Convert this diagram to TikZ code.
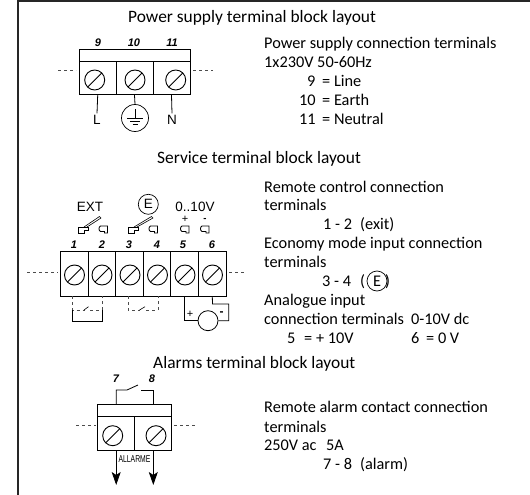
\documentclass[tikz,border=0pt]{standalone}
\usepackage{fontspec}
\setmainfont{Carlito}
\newfontfamily\armfont{Liberation Sans}
\usetikzlibrary{arrows.meta,positioning}
\tikzset{
  title/.style={inner sep=0pt,anchor=base west,font=\fontsize{17.4}{19}\selectfont},
  body/.style={inner sep=0pt,anchor=base west,font=\fontsize{16.3}{18}\selectfont},
  num/.style={inner sep=0pt,font=\armfont\fontsize{11}{12}\bfseries\itshape\selectfont},
  lab/.style={inner sep=0pt,font=\armfont\fontsize{13.5}{14}\selectfont},
  ring/.style={draw,circle,inner sep=0pt,line width=0.7pt},
  screw/.style={ring,minimum size=20pt,line width=0.9pt,
    path picture={\draw[line width=0.9pt] (path picture bounding box.south west) -- (path picture bounding box.north east);}},
  cell/.style={draw,line width=1pt,inner sep=0pt},
  dashline/.style={dashed,black!70,line width=0.5pt},
  wire/.style={line width=0.8pt},
  thinwire/.style={line width=0.6pt},
  pics/lugl/.style={code={\draw[line width=0.8pt] (0,8) -- (0,2) -- (10,2) -- (10,5) -- (6,5) -- (6,8) -- cycle;}},
  pics/lugr/.style={code={\draw[line width=0.8pt] (10,8) -- (10,1) -- (3,1) to[bend right=70] (3,6.5) -- (7,6.5) -- (7,8) -- cycle;}},
}
\begin{document}
\begin{tikzpicture}[x=1pt,y=-1pt]
  \useasboundingbox (0,0) rectangle (530,495);
  \draw[line width=1.7pt,black!85] (17.7,495) -- (17.7,1) -- (530,1);
  % titles
  \node[title] (title1) at (128,22.7) {Power supply terminal block layout};
  \node[title] (title2) at (157,163) {Service terminal block layout};
  \node[title] (title3) at (153,368) {Alarms terminal block layout};

  % power supply block
  \node[cell,minimum width=111pt,minimum height=12.4pt] (head1) at (134.7,55.5) {};
  \node[cell,minimum width=36.7pt,minimum height=33pt] (p9) at (97.7,78.2) {};
  \node[cell,minimum width=37pt,minimum height=33pt] (p10) at (134.5,78.2) {};
  \node[cell,minimum width=37pt,minimum height=33pt] (p11) at (171.5,78.2) {};
  \node[screw] (s9) at (94.7,80) {};
  \node[screw] (s10) at (135,80) {};
  \node[screw] (s11) at (175.7,80) {};
  \node[num] (n9) at (98,43) {9};
  \node[num] (n10) at (134,43) {10};
  \node[num] (n11) at (172,43) {11};
  \coordinate (d1) at (58,70.7);
  \coordinate (d2) at (213,70.7);
  \draw[dashline] (d1) -- (76,70.7);
  \draw[dashline] (193,70.7) -- (d2);
  \node[lab,outer sep=2pt] (L) at (97,120) {L};
  \node[lab,outer sep=2pt] (N) at (172,120) {N};
  \node[ring,minimum size=27pt] (earth) at (135,118) {};
  \draw[wire] (p9.south) -- (L.north);
  \draw[wire] (p10.south) -- (earth.north);
  \draw[wire] (p11.south) -- (N.north);
  \draw[thinwire] (135,109) -- (135,118) (127,118) -- (143,118) (130,121) -- (140,121) (132.5,124) -- (137.5,124);

  % power supply text
  \node[body] (ps1) at (264,48.3) {Power supply connection terminals};
  \node[body] (ps2) at (264,67.3) {1x230V 50-60Hz};
  \node[body] (ps3) at (307,86.5) {9};
  \node[body] (ps4) at (322,86.5) {= Line};
  \node[body] (ps5) at (299,105.5) {10};
  \node[body] (ps6) at (322,105.5) {= Earth};
  \node[body] (ps7) at (299,124.3) {11};
  \node[body] (ps8) at (322,124.3) {= Neutral};

  % service block
  \node[cell,minimum width=27.6pt,minimum height=45pt] (c1) at (74.3,273.5) {};
  \node[cell,minimum width=27.6pt,minimum height=45pt] (c2) at (101.9,273.5) {};
  \node[cell,minimum width=27.6pt,minimum height=45pt] (c3) at (129.5,273.5) {};
  \node[cell,minimum width=27.6pt,minimum height=45pt] (c4) at (157.1,273.5) {};
  \node[cell,minimum width=27.6pt,minimum height=45pt] (c5) at (184.7,273.5) {};
  \node[cell,minimum width=27.6pt,minimum height=45pt] (c6) at (212.3,273.5) {};
  \node[screw] (t1) at (74.5,275) {};
  \node[screw] (t2) at (102,275) {};
  \node[screw] (t3) at (130,275) {};
  \node[screw] (t4) at (157.5,275) {};
  \node[screw] (t5) at (185,275) {};
  \node[screw] (t6) at (212.5,275) {};
  \node[num] (n1) at (74,245) {1};
  \node[num] (n2) at (102,245) {2};
  \node[num] (n3) at (129,245) {3};
  \node[num] (n4) at (157,245) {4};
  \node[num] (n5) at (183,245) {5};
  \node[num] (n6) at (212,245) {6};
  \draw[dashline] (27,272) -- (58,272);
  \draw[dashline] (229,272) -- (245,272);
  \node[lab,anchor=base] (ext) at (90,211) {EXT};
  \node[ring,minimum size=20pt] (eco) at (148.3,204.3) {};
  \node[lab] (ecoe) at (eco) {E};
  \node[lab,anchor=base] (volt) at (195,211) {0..10V};
  \node[lab,font=\armfont\fontsize{11}{10}\selectfont] (plus) at (185,219.5) {+};
  \node[lab,font=\armfont\fontsize{9.5}{10}\bfseries\selectfont] (minus) at (205,220) {-};

  % contact symbols
  \pic at (78,225) {lugl};
  \pic at (97.5,225) {lugr};
  \pic at (128,225) {lugl};
  \pic at (147.5,225) {lugr};
  \pic at (179,225) {lugr};
  \pic at (199,225) {lugr};
  \draw[thinwire] (84,227) -- (99.5,216.5) -- (101,218) -- (87,227);
  \draw[thinwire] (134,227) -- (151.5,216.5) -- (153,218) -- (137,227);

  % links under the block
  \coordinate (j1) at (72.7,310);
  \coordinate (j2) at (102,310);
  \draw[dashline] (72.7,296) -- (j1) -- (85,310);
  \draw[dashline] (90,310) -- (j2) -- (102,296);
  \draw[thinwire] (84,310) -- (88.5,306.7);
  \draw[wire] (j1) -- (72.7,321) -- (102,321) -- (j2);
  \coordinate (j3) at (128,310);
  \coordinate (j4) at (158,310);
  \draw[dashline] (128,296) -- (j3) -- (140,310);
  \draw[dashline] (146,310) -- (j4) -- (158,296);
  \draw[thinwire] (139.5,310) -- (145,306.7);
  \node[ring,minimum size=20pt,line width=0.8pt] (gen) at (208,320.7) {};
  \draw[wire] (c5.south) -- (gen.west -| c5.south) -- (gen.west);
  \draw[wire] (c6.south) -- (212.5,304) -- (228.7,304) -- (228.7,320.7) -- (gen.east);
  \node[lab,font=\armfont\fontsize{11}{12}\selectfont] (gplus) at (190,314) {+};
  \node[lab,font=\armfont\fontsize{12}{12}\bfseries\selectfont] (gminus) at (221.7,314) {-};

  % service text
  \node[body] (rc1) at (264,192) {Remote control connection};
  \node[body] (rc2) at (264,210) {terminals};
  \node[body] (rc3) at (323,229) {1 - 2};
  \node[body] (rc4) at (360,229) {(exit)};
  \node[body] (ec1) at (264,248) {Economy mode input connection};
  \node[body] (ec2) at (264,267) {terminals};
  \node[body] (ec3) at (322,286) {3 - 4};
  \node[body] (ec4) at (360,286) {(};
  \node[ring,minimum size=20pt] (eco2) at (377,281) {};
  \node[body,anchor=center] (ec5) at (eco2) {E};
  \node[body] (ec6) at (385,286) {)};
  \node[body] (an1) at (264,305) {Analogue input};
  \node[body] (an2) at (264,324) {connection terminals};
  \node[body] (an3) at (411,324) {0-10V dc};
  \node[body] (an4) at (287,343) {5};
  \node[body] (an5) at (304,343) {= + 10V};
  \node[body] (an6) at (411,343) {6};
  \node[body] (an7) at (426,343) {= 0 V};

  % alarm block
  \node[cell,minimum width=74.3pt,minimum height=12pt] (head3) at (134.8,410.3) {};
  \node[cell,minimum width=37pt,minimum height=33.7pt] (a7) at (116.2,433.2) {};
  \node[cell,minimum width=37.3pt,minimum height=33.7pt] (a8) at (153.3,433.2) {};
  \node[screw] (s7) at (112.7,435.7) {};
  \node[screw] (s8) at (156,435.7) {};
  \node[num] (n7) at (116,379) {7};
  \node[num] (n8) at (152,379) {8};
  \draw[dashline] (76,425.7) -- (96,425.7);
  \draw[dashline] (174,425.7) -- (196,425.7);
  \draw[wire] (a7.north |- head3.north) -- (116.2,390) -- (127,390) -- (138,385);
  \draw[wire] (141,390) -- (153.3,390) -- (a8.north |- head3.north);
  \coordinate (end7) at (116.2,485);
  \coordinate (end8) at (153.3,485);
  \draw[wire,-{Stealth[length=13pt,width=9pt,inset=3pt]}] (a7.south) -- (end7);
  \draw[wire,-{Stealth[length=13pt,width=9pt,inset=3pt]}] (a8.south) -- (end8);
  \node[inner sep=0pt,xscale=0.68,font=\armfont\fontsize{10}{11}\selectfont] (allarme) at (134.5,459) {ALLARME};

  % alarm text
  \node[body] (al1) at (264,412) {Remote alarm contact connection};
  \node[body] (al2) at (264,432) {terminals};
  \node[body] (al3) at (264,450) {250V ac};
  \node[body] (al4) at (326,450) {5A};
  \node[body] (al5) at (323,469) {7 - 8};
  \node[body] (al6) at (360,469) {(alarm)};
\end{tikzpicture}
\end{document}
